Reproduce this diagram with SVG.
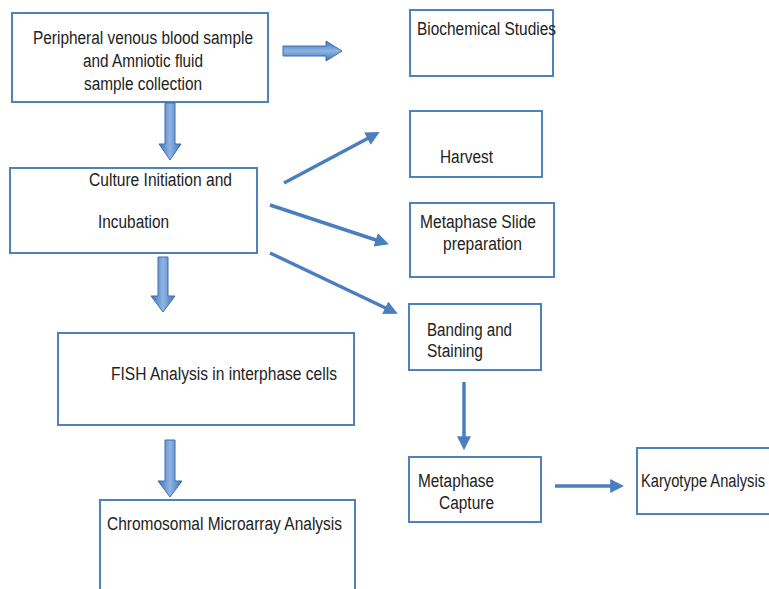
<svg xmlns="http://www.w3.org/2000/svg" width="769" height="589" viewBox="0 0 769 589">
<style>
.box{fill:#fff;stroke:#4f81bd;stroke-width:2}
text{font-family:"Liberation Sans",Arial,sans-serif;font-size:18px;fill:#222}
.ln{stroke:#4a7ebf;stroke-width:3.5;fill:none;marker-end:url(#ah)}
.blk{fill:url(#gv);stroke:#3f6fae;stroke-width:1}
.blkh{fill:url(#gh);stroke:#3f6fae;stroke-width:1}
</style>
<defs>
<marker id="ah" viewBox="0 0 10 10" refX="7" refY="5" markerWidth="4" markerHeight="4" orient="auto" markerUnits="strokeWidth">
<path d="M0,0 L10,5 L0,10 z" fill="#4a7ebf"/>
</marker>
<linearGradient id="gv" x1="0" y1="0" x2="1" y2="0">
<stop offset="0" stop-color="#3d72b8"/><stop offset="0.5" stop-color="#8fb4e3"/><stop offset="1" stop-color="#3d72b8"/>
</linearGradient>
<linearGradient id="gh" x1="0" y1="0" x2="0" y2="1">
<stop offset="0" stop-color="#3d72b8"/><stop offset="0.5" stop-color="#8fb4e3"/><stop offset="1" stop-color="#3d72b8"/>
</linearGradient>
</defs>
<rect width="769" height="589" fill="#fff"/>

<g id="n1"><rect class="box" x="12" y="13" width="256" height="89"/>
<text x="33" y="44" textLength="220" lengthAdjust="spacingAndGlyphs">Peripheral venous blood sample</text>
<text x="83" y="67" textLength="120" lengthAdjust="spacingAndGlyphs">and Amniotic fluid</text>
<text x="84" y="90" textLength="118" lengthAdjust="spacingAndGlyphs">sample collection</text></g>

<g id="n2"><rect class="box" x="410" y="10" width="143" height="66"/>
<text x="417" y="35" textLength="139" lengthAdjust="spacingAndGlyphs">Biochemical Studies</text></g>

<g id="n3"><rect class="box" x="410" y="111" width="132" height="66"/>
<text x="440" y="163" textLength="53" lengthAdjust="spacingAndGlyphs">Harvest</text></g>

<g id="n4"><rect class="box" x="10" y="168" width="247" height="85"/>
<text x="89" y="186" textLength="143" lengthAdjust="spacingAndGlyphs">Culture Initiation and</text>
<text x="98" y="228" textLength="71" lengthAdjust="spacingAndGlyphs">Incubation</text></g>

<g id="n5"><rect class="box" x="410" y="203" width="144" height="74"/>
<text x="420" y="228" textLength="116" lengthAdjust="spacingAndGlyphs">Metaphase Slide</text>
<text x="443" y="250" textLength="79" lengthAdjust="spacingAndGlyphs">preparation</text></g>

<g id="n6"><rect class="box" x="409" y="304" width="132" height="66"/>
<text x="427" y="336" textLength="85" lengthAdjust="spacingAndGlyphs">Banding and</text>
<text x="427" y="357" textLength="56" lengthAdjust="spacingAndGlyphs">Staining</text></g>

<g id="n7"><rect class="box" x="58" y="333" width="296" height="92"/>
<text x="111" y="380" textLength="226" lengthAdjust="spacingAndGlyphs">FISH Analysis in interphase cells</text></g>

<g id="n8"><rect class="box" x="409" y="457" width="132" height="65"/>
<text x="418" y="487" textLength="76" lengthAdjust="spacingAndGlyphs">Metaphase</text>
<text x="439" y="509" textLength="55" lengthAdjust="spacingAndGlyphs">Capture</text></g>

<g id="n9"><rect class="box" x="637" y="448" width="140" height="66"/>
<text x="641" y="487" textLength="124" lengthAdjust="spacingAndGlyphs">Karyotype Analysis</text></g>

<g id="n10"><rect class="box" x="100" y="500" width="255" height="100"/>
<text x="107" y="530" textLength="235" lengthAdjust="spacingAndGlyphs">Chromosomal Microarray Analysis</text></g>

<g id="connectors">
<path class="blkh" d="M283,46 L326,46 L326,41 L342,51 L326,61 L326,56 L283,56 z"/>
<path class="blk" d="M165,103 L175,103 L175,144 L181,144 L170,160 L159,144 L165,144 z"/>
<path class="blk" d="M158,257 L168,257 L168,296 L175,296 L163,312 L151,296 L158,296 z"/>
<path class="blk" d="M165,440 L175,440 L175,481 L182,481 L170,497 L158,481 L165,481 z"/>
<line class="ln" x1="284" y1="183" x2="376" y2="134"/>
<line class="ln" x1="270" y1="205" x2="385" y2="243"/>
<line class="ln" x1="270" y1="253" x2="394" y2="312"/>
<line class="ln" x1="464" y1="382" x2="464" y2="446"/>
<line class="ln" x1="555" y1="486" x2="620" y2="486"/>
</g>
</svg>
